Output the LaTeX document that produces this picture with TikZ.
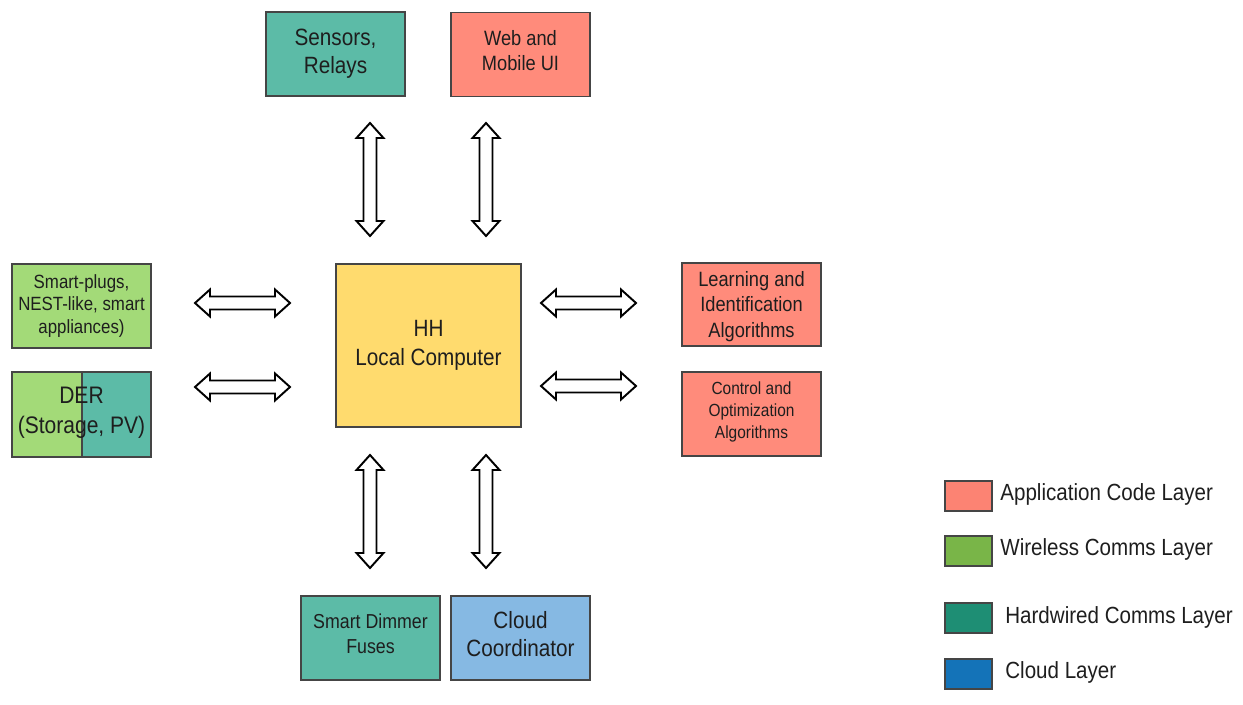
\documentclass[tikz,border=0pt]{standalone}
\usepackage{fontspec}
\setmainfont{Liberation Sans}[FakeStretch=0.88]
\definecolor{tealbox}{HTML}{5CBBA7}
\definecolor{salmonbox}{HTML}{FF8B7B}
\definecolor{greenbox}{HTML}{A3DA78}
\definecolor{yellowbox}{HTML}{FFDB6E}
\definecolor{bluebox}{HTML}{86B9E3}
\definecolor{legapp}{HTML}{FC8373}
\definecolor{legwire}{HTML}{79B548}
\definecolor{leghard}{HTML}{1E8E74}
\definecolor{legcloud}{HTML}{1473B8}
\definecolor{edge}{HTML}{454545}
\definecolor{ink}{HTML}{1E1E1E}
\usetikzlibrary{calc}
\tikzset{
  blk/.style={draw=edge, line width=0.7pt, inner sep=0pt, align=center, text=ink,
              minimum width=139*0.02cm, minimum height=84*0.02cm},
  caption/.style={inner sep=0pt, align=center, text=ink},
  legbox/.style={draw=edge, line width=0.7pt, minimum width=47*0.02cm, minimum height=30*0.02cm, inner sep=0pt},
  legtext/.style={anchor=west, inner sep=0pt, text=ink, font=\fontsize{13.3}{16}\selectfont},
  fatarrow/.style={draw=black, fill=white, line width=1.1pt, line join=miter}
}
% horizontal double block arrow: #1 name, #2 left x, #3 right x, #4 centre y
\newcommand\harrow[4]{%
  \coordinate (#1-a) at (#2,#4);
  \coordinate (#1-b) at (#3,#4);
  \draw[fatarrow] (#1-a) -- ++(15,-13.5) -- ++(0,7) -- ($(#1-b)+(-15,-6.5)$) -- ++(0,-7) -- (#1-b)
     -- ++(-15,13.5) -- ++(0,-7) -- ($(#1-a)+(15,6.5)$) -- ++(0,7) -- cycle;}
% vertical double block arrow: #1 name, #2 centre x, #3 top y, #4 bottom y
\newcommand\varrow[4]{%
  \coordinate (#1-a) at (#2,#3);
  \coordinate (#1-b) at (#2,#4);
  \draw[fatarrow] (#1-a) -- ++(13.5,15) -- ++(-7,0) -- ($(#1-b)+(6.5,-15)$) -- ++(7,0) -- (#1-b)
     -- ++(-13.5,-15) -- ++(7,0) -- ($(#1-a)+(-6.5,15)$) -- ++(-7,0) -- cycle;}
\begin{document}
\begin{tikzpicture}[x=0.02cm, y=-0.02cm]
\useasboundingbox (0,0) rectangle (1243,705);

% top row
\node[blk, fill=tealbox, font=\fontsize{13.4}{16}\selectfont] (sens) at (335.5,54) {Sensors,\\Relays};
\node[blk, fill=salmonbox] (web) at (520.5,54.5) {};
\node[caption, font=\fontsize{11.8}{14.2}\selectfont] (webtxt) at (520.5,50.5) {Web and\\Mobile UI};

% central computer
\node[blk, fill=yellowbox, minimum width=185*0.02cm, minimum height=163*0.02cm,
      font=\fontsize{13.4}{16.4}\selectfont] (hh) at (428.5,345.5) {HH\\Local Computer};

% left column
\node[blk, fill=greenbox, font=\fontsize{10.9}{12.8}\selectfont] (plugs) at (81.5,306) {Smart-plugs,\\NEST-like, smart\\appliances)};
\fill[greenbox] (12,372) rectangle (82,457);
\fill[tealbox] (82,372) rectangle (151,457);
\draw[edge, line width=0.7pt] (82,372) -- (82,457);
\node[blk, minimum height=85*0.02cm] (der) at (81.5,414.5) {};
\node[caption, font=\fontsize{13.6}{17}\selectfont] (dertxt) at (81.5,412.5) {DER\\(Storage, PV)};

% right column
\node[blk, fill=salmonbox, minimum height=83*0.02cm] (learn) at (751.5,304.5) {};
\node[caption, font=\fontsize{11.8}{14.5}\selectfont] (learntxt) at (751.5,306.5) {Learning and\\Identification\\Algorithms};
\node[blk, fill=salmonbox] (ctrl) at (751.5,414) {};
\node[caption, font=\fontsize{10}{12.6}\selectfont] (ctrltxt) at (751.5,412) {Control and\\Optimization\\Algorithms};

% bottom row
\node[blk, fill=tealbox] (dim) at (370.5,638) {};
\node[caption, font=\fontsize{11.5}{14.5}\selectfont] (dimtxt) at (370.5,634) {Smart Dimmer\\Fuses};
\node[blk, fill=bluebox] (cloud) at (520.5,638) {};
\node[caption, font=\fontsize{13.4}{15.5}\selectfont] (cloudtxt) at (520.5,634) {Cloud\\Coordinator};

% links to the local computer
\varrow{aSens}{370}{123}{236}
\varrow{aWeb}{486}{123}{236}
\varrow{aDim}{370}{455}{568}
\varrow{aCloud}{486}{455}{568}
\harrow{aPlugs}{195}{290}{303}
\harrow{aDer}{195}{290}{387}
\harrow{aLearn}{541}{636}{303}
\harrow{aCtrl}{541}{636}{386}

% legend
\node[legbox, fill=legapp] (lapp) at (968.5,496) {};
\node[legtext] at (1000,494) {Application Code Layer};
\node[legbox, fill=legwire] (lwire) at (968.5,551) {};
\node[legtext] at (1000,549) {Wireless Comms Layer};
\node[legbox, fill=leghard] (lhard) at (968.5,618) {};
\node[legtext] at (1005,617) {Hardwired Comms Layer};
\node[legbox, fill=legcloud] (lcloud) at (968.5,674) {};
\node[legtext] at (1005,672) {Cloud Layer};
\end{tikzpicture}
\end{document}
